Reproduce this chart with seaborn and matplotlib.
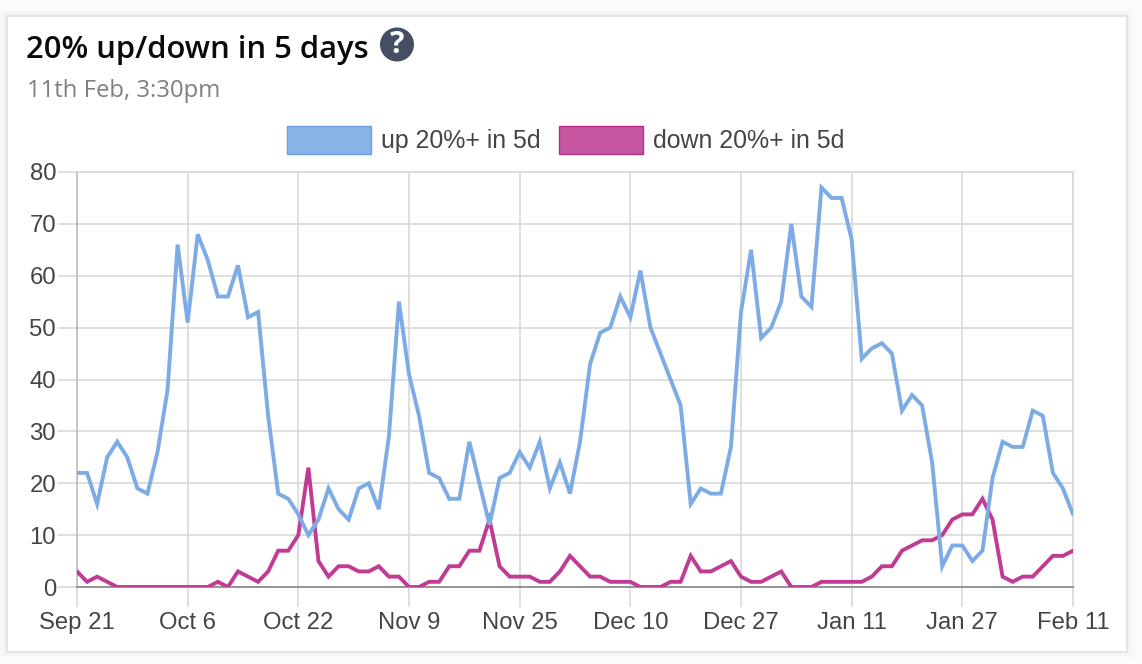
import matplotlib
matplotlib.use("Agg")
import matplotlib.pyplot as plt
from matplotlib.patches import Patch, Rectangle, Circle
import pandas as pd
import seaborn as sns

TITLE = "20% up/down in 5 days"
SUBTITLE = "11th Feb, 3:30pm"
UP_NAME = "up 20%+ in 5d"
DOWN_NAME = "down 20%+ in 5d"
TICK_LABELS = ["Sep 21", "Oct 6", "Oct 22", "Nov 9", "Nov 25", "Dec 10", "Dec 27", "Jan 11", "Jan 27", "Feb 11"]
Y_TICKS = [0, 10, 20, 30, 40, 50, 60, 70, 80]

up_values = [22, 22, 16, 25, 28, 25, 19, 18, 26, 38,
             66, 51, 68, 63, 56, 56, 62, 52, 53, 33,
             18, 17, 14, 10, 13, 19, 15, 13, 19, 20,
             15, 29, 55, 41, 33, 22, 21, 17, 17, 28,
             20, 12, 21, 22, 26, 23, 28, 19, 24, 18,
             28, 43, 49, 50, 56, 52, 61, 50, 45, 40,
             35, 16, 19, 18, 18, 27, 53, 65, 48, 50,
             55, 70, 56, 54, 77, 75, 75, 67, 44, 46,
             47, 45, 34, 37, 35, 24, 4, 8, 8, 5,
             7, 21, 28, 27, 27, 34, 33, 22, 19, 14]
down_values = [3, 1, 2, 1, 0, 0, 0, 0, 0, 0,
               0, 0, 0, 0, 1, 0, 3, 2, 1, 3,
               7, 7, 10, 23, 5, 2, 4, 4, 3, 3,
               4, 2, 2, 0, 0, 1, 1, 4, 4, 7,
               7, 13, 4, 2, 2, 2, 1, 1, 3, 6,
               4, 2, 2, 1, 1, 1, 0, 0, 0, 1,
               1, 6, 3, 3, 4, 5, 2, 1, 1, 2,
               3, 0, 0, 0, 1, 1, 1, 1, 1, 2,
               4, 4, 7, 8, 9, 9, 10, 13, 14, 14,
               17, 13, 2, 1, 2, 2, 4, 6, 6, 7]

UP_LINE, DOWN_LINE = "#7cabe5", "#c03c94"
UP_FILL, DOWN_FILL = "#88b3e8", "#c557a0"
GRID = "#d9d9d9"
TEXT = "#444444"

W, H = 1142, 664
sns.set_theme(style="white")
plt.rcParams["font.family"] = ["Liberation Sans", "DejaVu Sans"]

fig = plt.figure(figsize=(W / 100, H / 100), dpi=100, facecolor="#ffffff")

# page and card, in pixel coordinates
bg = fig.add_axes([0, 0, 1, 1], zorder=0)
bg.set_xlim(0, W)
bg.set_ylim(H, 0)
bg.axis("off")
bg.add_patch(Rectangle((0, 0), W, H, fc="#fbfbfb", ec="none"))
for grow, shade in [(6, "#f9f9f9"), (4, "#f6f6f6"), (2, "#f2f2f2")]:
    bg.add_patch(Rectangle((6 - grow, 15 - grow), 1121 + 2 * grow, 637 + 2 * grow, fc=shade, ec="none"))
bg.add_patch(Rectangle((7, 16), 1120, 636, fc="white", ec="#e4e4e4", lw=1.4))
bg.text(26, 50, TITLE, family="Open Sans", weight="semibold", fontsize=22.3, color="#0a0a0a", va="center", ha="left")
bg.text(27, 91, SUBTITLE, family="Open Sans", fontsize=17.2, color="#7f7f7f", va="center", ha="left")
bg.add_patch(Circle((397, 44.5), 17, fc="#444f63", ec="none"))
bg.text(397, 45, "?", family="Open Sans", weight="bold", fontsize=22, color="white", va="center", ha="center")

ax = fig.add_axes([77 / W, (H - 587) / H, 996 / W, 415 / H], zorder=1)
ax.patch.set_alpha(0)

n = len(up_values)
df = pd.DataFrame({
    "i": list(range(n)) * 2,
    "value": down_values + up_values,
    "series": [DOWN_NAME] * n + [UP_NAME] * n,
})
sns.lineplot(data=df, x="i", y="value", hue="series",
             hue_order=[DOWN_NAME, UP_NAME],
             palette={UP_NAME: UP_LINE, DOWN_NAME: DOWN_LINE},
             linewidth=2.8, legend=False, ax=ax, zorder=3,
             estimator=None, solid_joinstyle="miter")

ax.set_xlim(0, n - 1)
ax.set_ylim(0, 80)
ax.set_xticks(list(range(0, n, (n - 1) // (len(TICK_LABELS) - 1))))
ax.set_xticklabels(TICK_LABELS)
ax.set_yticks(Y_TICKS)
ax.set_xlabel("")
ax.set_ylabel("")
ax.grid(True, color=GRID, lw=1.2)
ax.set_axisbelow(True)
ax.tick_params(axis="x", length=14.4, width=1.2, color=GRID, labelsize=17.2, labelcolor=TEXT, pad=3.5, bottom=True)
ax.tick_params(axis="y", length=13.7, width=1.2, color=GRID, labelsize=17.2, labelcolor=TEXT, pad=1.4, left=True)
for side in ["top", "right"]:
    ax.spines[side].set_color(GRID)
    ax.spines[side].set_linewidth(1.2)
ax.spines["left"].set_color("#bdbdbd")
ax.spines["left"].set_linewidth(1.2)
ax.spines["bottom"].set_color("#8c8c8c")
ax.spines["bottom"].set_linewidth(1.3)

handles = [Patch(fc=UP_FILL, ec="#6f9fdf", lw=1, label=UP_NAME),
           Patch(fc=DOWN_FILL, ec="#b82d8b", lw=1, label=DOWN_NAME)]
fig.legend(handles=handles, ncols=2, frameon=False, fontsize=17.9, labelcolor=TEXT,
           handlelength=3.37, handleheight=1.35, handletextpad=0.4, columnspacing=0.76,
           loc="center", bbox_to_anchor=(565.5 / W, 1 - 140 / H), borderpad=0, borderaxespad=0)

fig.savefig("out.png", dpi=100, facecolor=fig.get_facecolor())
